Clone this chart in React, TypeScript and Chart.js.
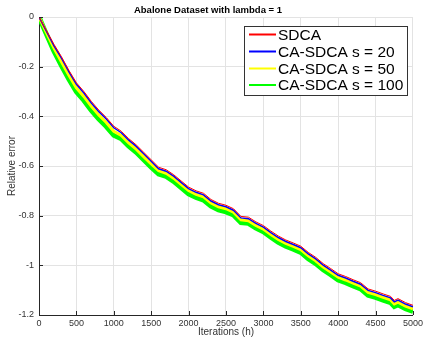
import React, { useEffect, useRef } from "react";
import { Chart, registerables } from "chart.js";

Chart.register(...registerables);

const iterations = [0,100,200,300,400,500,600,700,800,900,1000,1100,1200,1300,1400,1500,1600,1700,1800,1900,2000,2100,2200,2300,2400,2500,2600,2700,2800,2900,3000,3100,3200,3300,3400,3500,3600,3700,3800,3900,4000,4100,4200,4300,4400,4500,4600,4700,4750,4800,4900,5000];

const sdca = [0,-0.055,-0.11,-0.16,-0.215,-0.265,-0.3,-0.34,-0.375,-0.405,-0.44,-0.46,-0.49,-0.515,-0.545,-0.575,-0.605,-0.615,-0.635,-0.66,-0.685,-0.7,-0.71,-0.735,-0.75,-0.758,-0.772,-0.803,-0.806,-0.825,-0.84,-0.862,-0.882,-0.898,-0.91,-0.923,-0.948,-0.968,-0.993,-1.013,-1.034,-1.045,-1.058,-1.07,-1.095,-1.104,-1.115,-1.125,-1.141,-1.134,-1.15,-1.161];

const caS20 = [0,-0.058,-0.116,-0.166,-0.221,-0.271,-0.306,-0.346,-0.381,-0.411,-0.446,-0.466,-0.496,-0.521,-0.551,-0.581,-0.611,-0.621,-0.641,-0.666,-0.691,-0.706,-0.716,-0.741,-0.756,-0.764,-0.778,-0.809,-0.812,-0.831,-0.846,-0.868,-0.888,-0.904,-0.916,-0.929,-0.954,-0.974,-0.999,-1.019,-1.04,-1.051,-1.064,-1.076,-1.101,-1.11,-1.121,-1.131,-1.147,-1.14,-1.156,-1.167];

const caS50 = [0,-0.063,-0.125,-0.18,-0.235,-0.285,-0.32,-0.36,-0.395,-0.425,-0.46,-0.477,-0.507,-0.532,-0.562,-0.592,-0.619,-0.629,-0.649,-0.674,-0.699,-0.714,-0.724,-0.749,-0.764,-0.772,-0.786,-0.817,-0.82,-0.839,-0.854,-0.876,-0.896,-0.912,-0.924,-0.937,-0.962,-0.982,-1.007,-1.027,-1.048,-1.059,-1.072,-1.084,-1.109,-1.118,-1.129,-1.139,-1.155,-1.148,-1.164,-1.175];

const caS100 = [0,-0.07,-0.138,-0.196,-0.251,-0.301,-0.336,-0.376,-0.411,-0.441,-0.476,-0.49,-0.52,-0.545,-0.575,-0.605,-0.632,-0.642,-0.662,-0.687,-0.712,-0.727,-0.737,-0.762,-0.777,-0.785,-0.797,-0.828,-0.831,-0.85,-0.865,-0.887,-0.907,-0.923,-0.935,-0.948,-0.973,-0.993,-1.018,-1.038,-1.059,-1.07,-1.083,-1.095,-1.12,-1.129,-1.14,-1.15,-1.166,-1.159,-1.175,-1.186];

const seriesLabels = ["SDCA", "CA-SDCA s = 20", "CA-SDCA s = 50", "CA-SDCA s = 100"];
const seriesColors = ["#ff0000", "#0000ff", "#ffff00", "#00ff00"];
const seriesWidths = [1, 1.5, 3, 5];
const xTicks = [0,500,1000,1500,2000,2500,3000,3500,4000,4500,5000];
const yTicks = [0,-0.2,-0.4,-0.6,-0.8,-1,-1.2];
const yTickLabels = ["0","-0.2","-0.4","-0.6","-0.8","-1","-1.2"];

const FONT = "'Liberation Sans', Arial, Helvetica, sans-serif";

const innerTicks = {
  id: "innerTicks",
  afterDatasetsDraw(chart: any) {
    const { ctx, chartArea, scales } = chart;
    ctx.save();
    ctx.strokeStyle = "#262626";
    ctx.lineWidth = 1;
    ctx.beginPath();
    for (const v of xTicks) {
      const x = Math.round(scales.x.getPixelForValue(v)) + 0.5;
      ctx.moveTo(x, chartArea.bottom);
      ctx.lineTo(x, chartArea.bottom - 4);
    }
    for (const v of yTicks) {
      const y = Math.round(scales.y.getPixelForValue(v)) + 0.5;
      ctx.moveTo(chartArea.left, y);
      ctx.lineTo(chartArea.left + 4, y);
    }
    ctx.stroke();
    ctx.restore();
  },
};

const boxLegend = {
  id: "boxLegend",
  afterDraw(chart: any) {
    const { ctx } = chart;
    const left = 244.5, top = 26.5, w = 163, h = 69;
    ctx.save();
    ctx.fillStyle = "#ffffff";
    ctx.fillRect(left, top, w, h);
    ctx.strokeStyle = "#333333";
    ctx.lineWidth = 1;
    ctx.strokeRect(left, top, w, h);
    const rows = [34.5, 51.5, 68.5, 85];
    ctx.font = `15.5px ${FONT}`;
    ctx.textBaseline = "middle";
    ctx.textAlign = "left";
    chart.data.datasets.forEach((ds: any, i: number) => {
      const y = rows[i];
      ctx.strokeStyle = ds.borderColor;
      ctx.lineWidth = 2;
      ctx.beginPath();
      ctx.moveTo(249, y);
      ctx.lineTo(276, y);
      ctx.stroke();
      ctx.fillStyle = "#000000";
      ctx.fillText(ds.label, 278, y + 1);
    });
    ctx.restore();
  },
};

export default function App() {
  const ref = useRef<HTMLCanvasElement>(null);
  useEffect(() => {
    if (!ref.current) return;
    const allSeries = [sdca, caS20, caS50, caS100];
    const chart = new Chart(ref.current, {
      type: "line",
      data: {
        datasets: allSeries.map((vals, i) => ({
          label: seriesLabels[i],
          data: iterations.map((x, j) => ({ x, y: vals[j] })),
          borderColor: seriesColors[i],
          backgroundColor: seriesColors[i],
          borderWidth: seriesWidths[i],
          pointRadius: 0,
          tension: 0,
          fill: false,
        })),
      },
      options: {
        animation: false,
        responsive: false,
        maintainAspectRatio: false,
        layout: { padding: { left: 0, right: 10, top: 0, bottom: 0 } },
        plugins: {
          legend: { display: false },
          tooltip: { enabled: false },
          title: {
            display: true,
            text: "Abalone Dataset with lambda = 1",
            color: "#000000",
            font: { family: FONT, size: 9.5, weight: "bold", lineHeight: 1.2 },
            padding: { top: 5, bottom: 0.6 },
          },
        },
        scales: {
          x: {
            type: "linear",
            min: 0,
            max: 5000,
            afterBuildTicks(scale: any) {
              scale.ticks = xTicks.map((v) => ({ value: v }));
            },
            afterFit(scale: any) {
              scale.height = 23;
            },
            ticks: {
              color: "#333333",
              font: { family: FONT, size: 9, lineHeight: 1.2 },
              padding: 3,
              maxRotation: 0,
              autoSkip: false,
              callback: (v: any) => String(v),
            },
            grid: { color: "#e3e3e3", drawTicks: false, lineWidth: 1 },
            border: { display: true, color: "#262626", width: 1 },
            title: {
              display: true,
              text: "Iterations (h)",
              color: "#333333",
              font: { family: FONT, size: 10, lineHeight: 1.2 },
              padding: { top: 0, bottom: 0 },
            },
          },
          y: {
            type: "linear",
            min: -1.2,
            max: 0,
            afterBuildTicks(scale: any) {
              scale.ticks = yTicks.map((v) => ({ value: v }));
            },
            afterFit(scale: any) {
              scale.width = 39;
            },
            ticks: {
              color: "#333333",
              font: { family: FONT, size: 9, lineHeight: 1.2 },
              padding: 5,
              autoSkip: false,
              callback: (v: any) => {
                const idx = yTicks.findIndex((t) => Math.abs(t - v) < 1e-9);
                return idx >= 0 ? yTickLabels[idx] : "";
              },
            },
            grid: { color: "#e3e3e3", drawTicks: false, lineWidth: 1 },
            border: { display: true, color: "#262626", width: 1 },
            title: {
              display: true,
              text: "Relative error",
              color: "#333333",
              font: { family: FONT, size: 10, lineHeight: 1.2 },
              padding: { top: 6, bottom: 0 },
            },
          },
        },
      },
      plugins: [innerTicks, boxLegend],
    });
    return () => chart.destroy();
  }, []);
  return (
    <div style={{ position: "fixed", left: 0, top: 0, width: 426, height: 338, background: "#ffffff" }}>
      <canvas ref={ref} width={426} height={338} style={{ width: 426, height: 338, display: "block" }} />
    </div>
  );
}
